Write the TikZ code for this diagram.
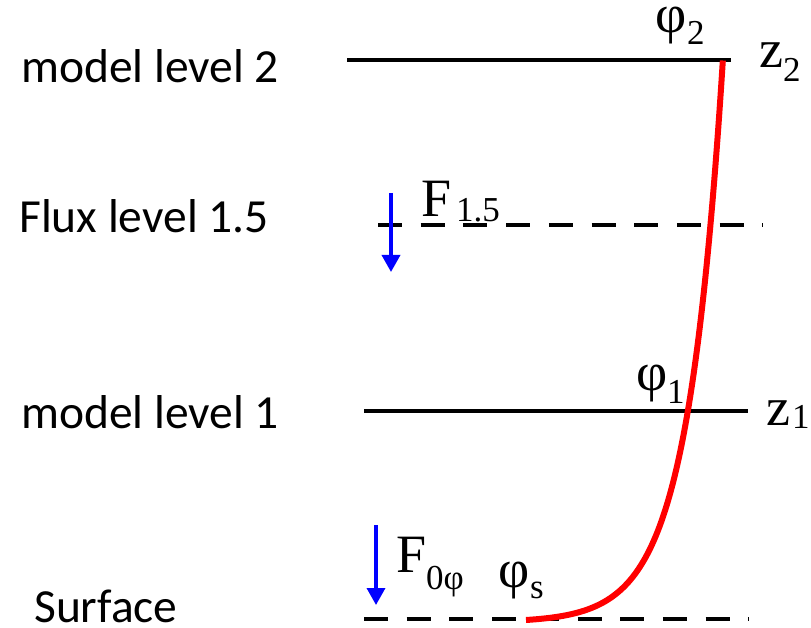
\documentclass[tikz,border=0pt]{standalone}
\usepackage{fontspec}
\setmainfont{Carlito}
\newfontfamily\tm{Liberation Serif}
\usetikzlibrary{arrows.meta}
\tikzset{
  lbl/.style={inner sep=0pt, anchor=base west, font=\fontsize{47.5}{56}\selectfont},
  mth/.style={inner sep=0pt, anchor=base west, font=\tm\fontsize{54}{62}\selectfont},
  sbs/.style={inner sep=0pt, anchor=base west, font=\tm\fontsize{35}{42}\selectfont},
  solidlevel/.style={line width=4.8pt, black},
  dashlevel/.style={line width=4.8pt, black, dash pattern=on 24pt off 18.7pt},
  fluxarrow/.style={line width=3.5pt, blue, -{Triangle[width=18pt,length=17pt]}},
  profile/.style={line width=6pt, red, line join=round}
}
\begin{document}
\begin{tikzpicture}[x=1pt,y=-1pt]
\useasboundingbox (0,0) rectangle (811,628);
% left labels
\node[lbl] (ml2) at (21,83) {model level 2};
\node[lbl] (fl15) at (19,233) {Flux level 1.5};
\node[lbl] (ml1) at (21,428) {model level 1};
\node[lbl] (surf) at (34,622) {Surface};
% level lines
\coordinate (L2a) at (347,60);  \coordinate (L2b) at (731,60);
\coordinate (F15a) at (378,225); \coordinate (F15b) at (763,225);
\coordinate (L1a) at (364,411); \coordinate (L1b) at (748,411);
\coordinate (Sa) at (364,619);  \coordinate (Sb) at (749,619);
\draw[solidlevel] (L2a) -- (L2b);
\draw[dashlevel] (F15a) -- (F15b);
\draw[solidlevel] (L1a) -- (L1b);
\draw[dashlevel] (Sa) -- (Sb);
% profile (logarithmic shape from the surface value up to level 2)
\draw[profile] plot[smooth, domain=0:5.5, samples=120, variable=\t]
  ({526+35.8*\t}, {620-2.3*(exp(\t)-1)});
% flux arrows
\coordinate (A1s) at (391,193); \coordinate (A1e) at (391,272);
\coordinate (A2s) at (376,525); \coordinate (A2e) at (376,605);
\draw[fluxarrow] (A1s) -- (A1e);
\draw[fluxarrow] (A2s) -- (A2e);
% math labels
\node[mth] (phi2) at (655,33) {φ};
\node[sbs] (phi2s) at (687,45) {2};
\node[mth] (z2) at (759,68) {z};
\node[sbs] (z2s) at (783,82) {2};
\node[mth] (F15) at (421,217) {F};
\node[sbs] (F15s) at (456,222) {1.5};
\node[mth] (phi1) at (636,390) {φ};
\node[sbs] (phi1s) at (667,403) {1};
\node[mth] (z1) at (766,425) {z};
\node[sbs] (z1s) at (792,428) {1};
\node[mth] (F0) at (396,572) {F};
\node[sbs] (F0s) at (426,589) {0φ};
\node[mth] (phis) at (498,587) {φ};
\node[sbs] (phiss) at (530,598) {s};
\end{tikzpicture}
\end{document}
